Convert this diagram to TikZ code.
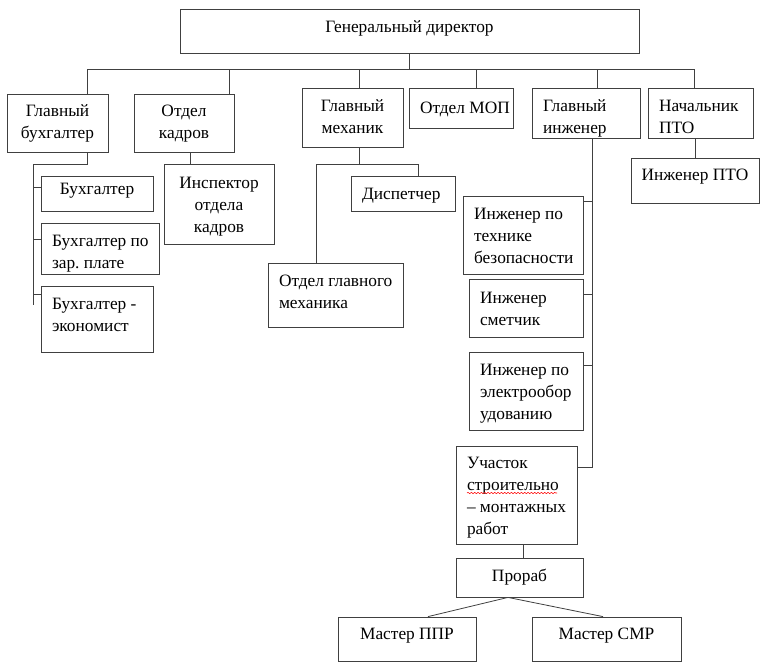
\documentclass[tikz,border=0pt]{standalone}
\usepackage{fontspec}
\setmainfont{Liberation Serif}
\usetikzlibrary{decorations.pathmorphing}
\def \px {0.75pt}
\def \linecolor {black!75}
\tikzset{
  box/.style n args={3}{draw=\linecolor, line width=0.6pt, minimum width=#1*\px, minimum height=#2*\px,
    inner xsep=3*\px, inner ysep=0pt, align=flush center, font=\fontsize{13}{16.5}\selectfont\frenchspacing,
    /utils/exec={\pgfmathsetlengthmacro\boxtw{(#1-6)*\px}%
      \pgfmathsetlengthmacro\boxth{max(2*(#3+2),0)*\px}%
      \pgfmathsetlengthmacro\boxtd{max(-2*(#3+2),0)*\px}},
    text width=\boxtw, text height=\boxth, text depth=\boxtd},
  lbox/.style n args={3}{box={#1}{#2}{#3}, align=flush left, execute at begin node={\leftskip=6pt}},
  link/.style={draw=\linecolor, line width=0.6pt},
}

\begin{document}
\begin{tikzpicture}[x=\px, y=-\px]
\useasboundingbox (0,0) rectangle (768,669);
% Draw the boxes
\node (dir) [box={459}{44}{-1}] at (409.5,31) {Генеральный директор};
\node (gbuh) [box={101}{58}{-9}] at (57.5,123) {Главный\\бухгалтер};
\node (okad) [box={100}{58}{-9}] at (184,123) {Отдел\\кадров};
\node (gmeh) [box={101}{59}{-8.5}] at (352.5,117.5) {Главный\\механик};
\node (mop) [lbox={104}{40}{3}] at (461,108) {Отдел МОП};
\node (ging) [lbox={108}{50}{-4}] at (586,113) {Главный\\инженер};
\node (npto) [lbox={105}{50}{-4}] at (700.5,113) {Начальник\\ПТО};
\node (ipto) [box={128}{45}{-2.5}] at (695,180.5) {Инженер ПТО};
\node (buh1) [box={112}{35}{-1.5}] at (97,193.5) {Бухгалтер};
\node (buh2) [lbox={118}{51}{-4.5}] at (100,248.5) {Бухгалтер по\\зар. плате};
\node (buh3) [lbox={112}{66}{-12}] at (97,319) {Бухгалтер -\\экономист};
\node (insp) [box={110}{80}{-18}] at (219,204) {Инспектор\\отдела\\кадров};
\node (ogm) [lbox={135}{64}{-11}] at (335.5,295) {Отдел главного\\механика};
\node (disp) [lbox={104}{35}{3.5}] at (403,193.5) {Диспетчер};
\node (itb) [lbox={120}{78}{-18}] at (523,235) {Инженер по\\технике\\безопасности};
\node (ism) [lbox={114}{58}{-7}] at (526,308) {Инженер\\сметчик};
\node (iel) [lbox={114}{78}{-18}] at (526,391) {Инженер по\\электрообор\\удованию};
\node (usmr) [lbox={121}{98}{-29}] at (516.5,495) {Участок\\строительно\\– монтажных\\работ};
\node (prb) [box={127}{39}{1.5}] at (519.5,577.5) {Прораб};
\node (mppr) [box={138}{44}{-2}] at (407,639) {Мастер ППР};
\node (msmr) [box={149}{44}{-2}] at (606.5,639) {Мастер СМР};
% Draw the bus under the director
\coordinate (bus) at (409,69);
\coordinate (busW) at (87,69);
\coordinate (busE) at (694,69);
\draw[link] (dir.south) -- (dir.south |- bus);
\draw[link] (busW) -- (busE);
\foreach \n/\dx in {gbuh/29.5, okad/45, gmeh/6.5, mop/15, ging/11, npto/-6.5}
  \draw[link] ([xshift=\dx*\px]\n.north) coordinate (top) -- (top |- bus);
% Draw the accountants
\coordinate (buhrail) at (33,164);
\coordinate (buhend) at (33,305);
\draw[link] ([xshift=29.5*\px]gbuh.south) |- (buhrail) -- (buhend);
\foreach \n/\dy in {buh1/12, buh2/17, buh3/9}
  \draw[link] ([yshift=-\dy*\px]\n.north west) coordinate (t) -- (t -| buhrail);
% Draw the staff department
\draw[link] ([xshift=6*\px]okad.south) coordinate (t) -- (t |- insp.north);
% Draw the mechanics
\draw[link] ([xshift=6.5*\px]gmeh.south) -- ++(0,17) coordinate (mehbus);
\draw[link] ([xshift=-19.5*\px]ogm.north) |- (mehbus);
\draw[link] ([xshift=15*\px]disp.north) |- (mehbus);
% Draw the engineers
\coordinate (ingrail) at ([xshift=6*\px]ging.south);
\draw[link] (ingrail) |- ([yshift=-22*\px]usmr.north east);
\foreach \n/\dy in {itb/6, ism/16, iel/14}
  \draw[link] ([yshift=-\dy*\px]\n.north east) coordinate (t) -- (t -| ingrail);
\draw[link] (ipto.north) -- (ipto.north |- npto.south);
% Draw the site
\draw[link] ([xshift=6.5*\px]usmr.south) coordinate (t) -- (t |- prb.north);
\draw[link] ([xshift=21*\px]mppr.north) -- ([xshift=-11.5*\px]prb.south) -- ([xshift=-3.5*\px]msmr.north);
% Draw the spelling mark
\draw[red, line width=0.4pt, decorate, decoration={snake, amplitude=0.5pt, segment length=2.5pt}] (467,493) -- (557,493);
\end{tikzpicture}
\end{document}
